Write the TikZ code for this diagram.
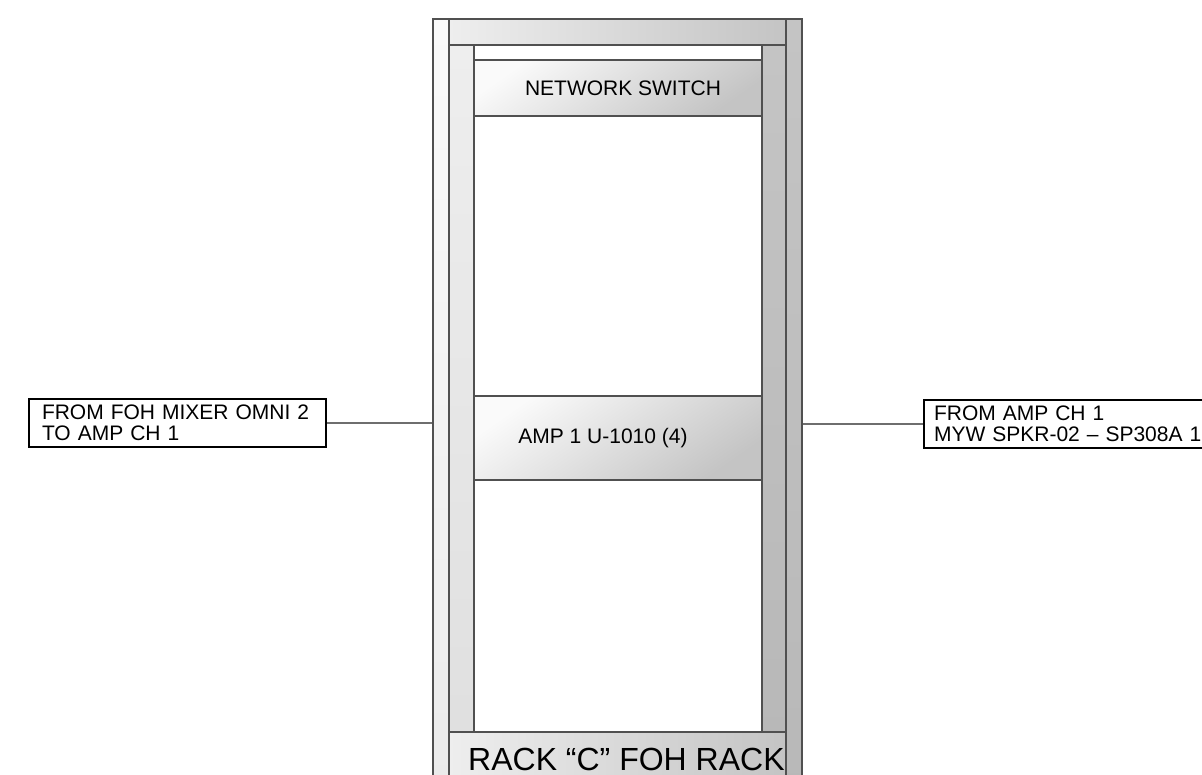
\documentclass[tikz,border=0pt]{standalone}
\usepackage{fontspec}
\setmainfont{Liberation Sans}
\usetikzlibrary{positioning,calc}
\definecolor{redge}{HTML}{505050}
\definecolor{rwhite}{HTML}{FAFAFA}
\definecolor{rlight}{HTML}{EEEEEE}
\definecolor{rmid}{HTML}{E0E0E0}
\definecolor{rdark}{HTML}{C4C4C4}
\definecolor{wiregray}{HTML}{6E6E6E}
\tikzset{
  % rack frame parts: grey bars with a dark outline
  rail/.style  = {rectangle, draw=redge, line width=1.2pt, inner sep=0pt,
                  top color=#1, bottom color=#1!94!black},
  rail/.default = rmid,
  bar/.style   = {rectangle, draw=redge, line width=1.2pt, inner sep=0pt,
                  left color=rlight, right color=rdark},
  % equipment in the rack
  unit/.style  = {rectangle, draw=redge, line width=1.2pt, inner sep=0pt,
                  minimum width=288pt, top color=rwhite, bottom color=rdark,
                  shading angle=35, font=\fontsize{21}{20}\selectfont},
  % cable call-outs
  cbox/.style  = {rectangle, draw=black, line width=2pt, align=left,
                  minimum height=48pt, inner ysep=2pt,
                  font=\fontsize{21}{20.5}\selectfont},
  wire/.style  = {wiregray, line width=1.2pt},
  title/.style = {font=\fontsize{32}{32}\selectfont, inner sep=0pt},
}

\begin{document}
\begin{tikzpicture}[x=1pt,y=-1pt]
\clip (0,0) rectangle (1202,775);
% frame
\node[rail=rwhite, minimum width=16pt, minimum height=771pt] (lrail) at (441,404.5) {};
\node[rail=rdark,  minimum width=16pt, minimum height=771pt] (rrail) at (794,404.5) {};
\node[bar, minimum width=337pt, minimum height=26pt] (topbar) at (617.5,32) {};
\node[rail=rlight, minimum width=25pt, minimum height=687pt] (linner) at (461.5,388.5) {};
\node[rail=rdark,  minimum width=24pt, minimum height=687pt] (rinner) at (774,388.5) {};
\node[bar, minimum width=337pt, minimum height=58pt] (botbar) at (617.5,761) {};
\node[title, anchor=base west] (rackname) at (468,770) {RACK “C” FOH RACK};
% units
\node[unit, minimum height=56pt] (switch) at (618,88) {\hspace*{10pt}NETWORK SWITCH};
\node[unit, minimum height=84pt] (amp) at (618,438) {\hspace*{-30pt}AMP 1 U-1010 (4)};
% cable labels
\node[cbox, minimum width=297pt, text width=271pt, inner xsep=13pt] (inlbl) at (177.5,423)
  {FROM FOH MIXER OMNI 2\\TO AMP CH 1};
\node[cbox, minimum width=300pt, text width=280pt, inner xsep=10pt, anchor=west] (outlbl) at (923,424)
  {FROM AMP CH 1\\MYW SPKR-02 – SP308A 1};
\draw[wire] (inlbl.east) -- (inlbl.east -| lrail.west);
\draw[wire] (rrail.east |- outlbl.west) -- (outlbl.west);
\end{tikzpicture}
\end{document}
